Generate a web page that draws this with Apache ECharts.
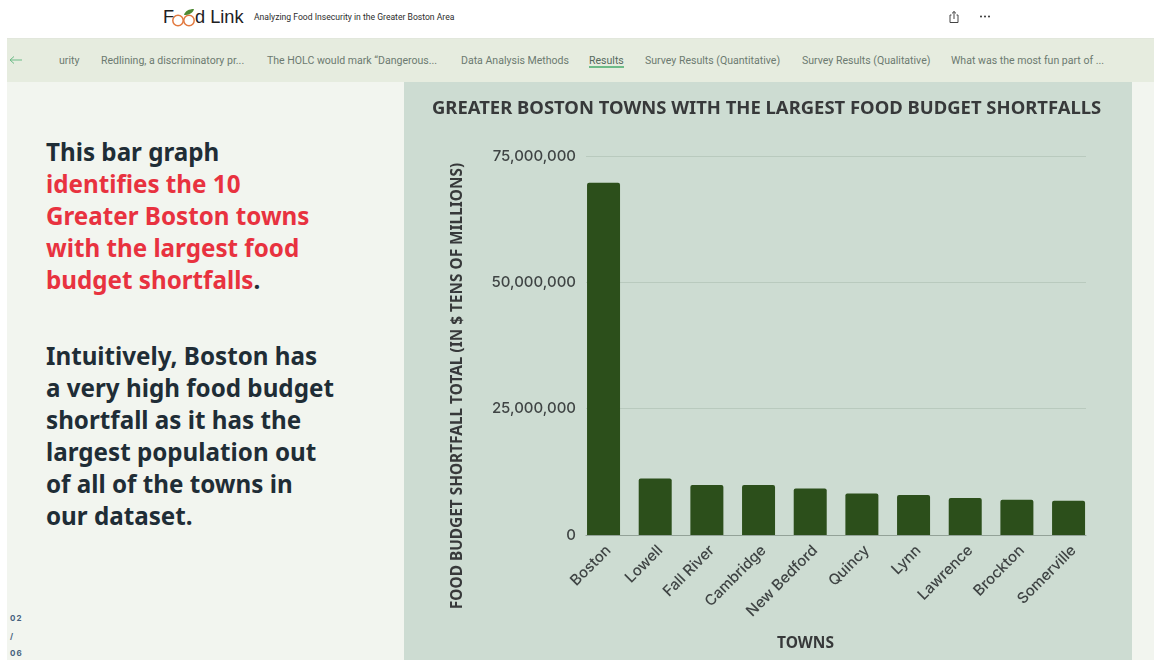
<!DOCTYPE html>
<html>
<head>
<meta charset="utf-8">
<title>Food Link</title>
<script src="https://cdn.jsdelivr.net/npm/echarts@6/dist/echarts.min.js"></script>
<style>
  html, body { margin: 0; padding: 0; background: #fff; }
  body { position: relative; width: 1154px; height: 660px; overflow: hidden; font-family: "Noto Sans", sans-serif; }
  .abs { position: absolute; white-space: nowrap; }
  #nav { left: 7px; top: 38px; width: 1147px; height: 44px; background: #e6ecdf; border-top: 1px solid #e2e7dc; box-sizing: border-box; }
  #side { left: 7px; top: 82px; width: 397px; height: 578px; background: #f2f5ef; }
  #gutter { left: 1132px; top: 82px; width: 22px; height: 578px; background: #f2f5ef; }
  #chart { left: 404px; top: 82px; width: 728px; height: 578px; }
  .tab { top: 54px; font: 10.55px/14px Roboto, sans-serif; color: #6c7a70; }
  #active { color: #55685c; }
  #underline { left: 589px; top: 66px; width: 35px; height: 2px; background: #6dbb87; }
  #story { left: 46px; top: 136px; font: 700 24.2px/32px "Noto Sans", sans-serif; color: #1f2d36; }
  #story p { margin: 0 0 44px 0; }
  #story b { color: #e8323f; font-weight: 700; }
  .pager { left: 10px; font: 700 8px/10px Inter, sans-serif; letter-spacing: 1px; color: #47627e; }
  .brand { top: 6px; font: 400 18.2px/22px "Liberation Sans", sans-serif; color: #20201f; }
  #tagline { left: 254px; top: 11px; font: 8.6px/12px Roboto, sans-serif; color: #2c2c2c; }
</style>
</head>
<body>
  <svg class="abs" style="left:170px;top:6px" width="32" height="22" viewBox="0 0 32 22">
    <circle cx="8" cy="14.5" r="5.2" fill="none" stroke="#e2793f" stroke-width="1.5"/>
    <circle cx="19" cy="14.5" r="5.2" fill="none" stroke="#e2793f" stroke-width="1.5"/>
    <path d="M14 9 C 15 5, 19 3, 24 3 C 23 7, 19 9, 14 9 Z" fill="#4f8a35"/>
  </svg>
  <div class="abs brand" style="left:163px">F</div>
  <div class="abs brand" style="left:195px">d Link</div>
  <div class="abs" id="tagline">Analyzing Food Insecurity in the Greater Boston Area</div>
  <svg class="abs" style="left:948px;top:10px" width="12" height="14" viewBox="0 0 12 14">
    <path d="M3.5 5 H2 V12.5 H10 V5 H8.5 M6 9 V1.5 M4 3.4 L6 1.5 L8 3.4" fill="none" stroke="#444" stroke-width="1"/>
  </svg>
  <svg class="abs" style="left:979px;top:14px" width="12" height="5" viewBox="0 0 12 5">
    <circle cx="2" cy="2.5" r="1" fill="#333"/><circle cx="6" cy="2.5" r="1" fill="#333"/><circle cx="10" cy="2.5" r="1" fill="#333"/>
  </svg>

  <div class="abs" id="nav"></div>
  <svg class="abs" style="left:9px;top:54px" width="14" height="12" viewBox="0 0 14 12">
    <path d="M1 6 H13 M5 2.5 L1 6 L5 9.5" fill="none" stroke="#6dbb87" stroke-width="1"/>
  </svg>
  <div class="abs tab" style="left:59px">urity</div>
  <div class="abs tab" style="left:101px">Redlining, a discriminatory pr...</div>
  <div class="abs tab" style="left:267px">The HOLC would mark “Dangerous...</div>
  <div class="abs tab" style="left:461px">Data Analysis Methods</div>
  <div class="abs tab" style="left:589px" id="active">Results</div>
  <div class="abs" id="underline"></div>
  <div class="abs tab" style="left:645px">Survey Results (Quantitative)</div>
  <div class="abs tab" style="left:802px">Survey Results (Qualitative)</div>
  <div class="abs tab" style="left:951px">What was the most fun part of ...</div>

  <div class="abs" id="side"></div>
  <div class="abs" id="gutter"></div>
  <div class="abs" id="story">
    <p>This bar graph<br><b>identifies the 10<br>Greater Boston towns<br>with the largest food<br>budget shortfalls</b>.</p>
    <p>Intuitively, Boston has<br>a very high food budget<br>shortfall as it has the<br>largest population out<br>of all of the towns in<br>our dataset.</p>
  </div>
  <div class="abs pager" style="top:613px">02</div>
  <div class="abs pager" style="top:631px">/</div>
  <div class="abs pager" style="top:648px">06</div>

  <div class="abs" id="chart"></div>

<script>
// Ten towns with the largest food budget shortfalls, in dollars.
const towns = ['Boston', 'Lowell', 'Fall River', 'Cambridge', 'New Bedford', 'Quincy', 'Lynn', 'Lawrence', 'Brockton', 'Somerville'];
const shortfalls = [69700000, 11200000, 9900000, 9900000, 9200000, 8200000, 7900000, 7300000, 7000000, 6800000];
const axisMax = 75000000;
const axisStep = 25000000;
const chartTitle = 'GREATER BOSTON TOWNS WITH THE LARGEST FOOD BUDGET SHORTFALLS';
const yTitle = 'FOOD BUDGET SHORTFALL TOTAL (IN $ TENS OF MILLIONS)';
const xTitle = 'TOWNS';

const ink = '#37393a';
const headingFont = '"Noto Sans", sans-serif';
const chart = echarts.init(document.getElementById('chart'), null, { renderer: 'canvas' });

chart.setOption({
  backgroundColor: '#cddcd2',
  animation: false,
  title: {
    text: chartTitle, left: 23, top: 13,
    textStyle: { color: ink, fontFamily: headingFont, fontWeight: 700, fontSize: 18.45 }
  },
  // The first grid carries the value scale and rules; the second, slightly
  // wider one lets the outer bars sit flush with the ends of those rules.
  // The third only places the slanted town names.
  grid: [
    { left: 182, top: 74, width: 500, height: 379 },
    { left: 173.7, top: 74, width: 516.7, height: 379 },
    { left: 178.7, top: 74, width: 516.7, height: 379 }
  ],
  xAxis: [
    { gridIndex: 0, type: 'category', data: towns, axisLabel: { show: false }, axisTick: { show: false },
      axisLine: { lineStyle: { color: '#93a298', width: 1 } } },
    { gridIndex: 1, type: 'category', data: towns, axisTick: { show: false }, axisLine: { show: false }, axisLabel: { show: false } },
    { gridIndex: 2, type: 'category', data: towns, axisTick: { show: false }, axisLine: { show: false },
      axisLabel: { rotate: 45, interval: 0, margin: 13, color: '#3f4444', fontFamily: 'Inter', fontWeight: 500, fontSize: 15 } }
  ],
  yAxis: [
    { gridIndex: 0, type: 'value', min: 0, max: axisMax, interval: axisStep,
      axisLine: { show: false }, axisTick: { show: false },
      splitLine: { lineStyle: { color: '#b9cabe', width: 1 } },
      axisLabel: { margin: 10, color: '#3f4444', fontFamily: 'Inter', fontWeight: 500, fontSize: 15,
        formatter: v => v.toLocaleString('en-US') } },
    { gridIndex: 1, type: 'value', min: 0, max: axisMax, interval: axisStep, show: false },
    { gridIndex: 2, type: 'value', min: 0, max: axisMax, interval: axisStep, show: false }
  ],
  series: [{
    type: 'bar', xAxisIndex: 1, yAxisIndex: 1, data: shortfalls, barWidth: 33,
    itemStyle: { color: '#2c4f1b', borderRadius: [2, 2, 0, 0] }
  }],
  graphic: [
    { type: 'text', x: 54, y: 304, rotation: Math.PI / 2, silent: true,
      style: { text: yTitle, fill: ink, font: '700 15.4px ' + headingFont, align: 'center', verticalAlign: 'middle' } },
    { type: 'text', x: 401.5, y: 562, silent: true,
      style: { text: xTitle, fill: ink, font: '700 15.5px ' + headingFont, align: 'center', verticalAlign: 'middle' } }
  ]
});
</script>
</body>
</html>
